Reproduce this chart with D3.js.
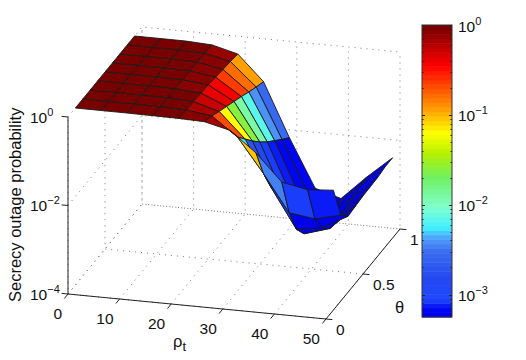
<!DOCTYPE html>
<html lang="en">
<head>
    <meta charset="UTF-8"/>
    <title>Secrecy outage probability</title>
    <script src="https://d3js.org/d3.v7.min.js" charset="utf-8"></script>
    <style type="text/css">
        html, body { margin: 0; padding: 0; background: #fff; }
        svg { display: block; }
        text { font-family: "Liberation Sans", sans-serif; font-size: 15.5px; fill: #111; }
        .title { font-size: 16.5px; }
        .grid { fill: none; stroke: #555; stroke-width: 0.8px; stroke-dasharray: 1 5; }
        .axis { fill: none; stroke: #222; stroke-width: 1px; }
        .cell { stroke: #1a1a1a; stroke-width: 0.9px; stroke-linejoin: round; }
    </style>
</head>
<body>
<div id="diagram"></div>
<script type="text/javascript">

    var rhoValues = [0, 5, 10, 15, 20, 25, 30, 35, 40, 45, 50];
    var thetaValues = [0.1, 0.2, 0.3, 0.4, 0.5, 0.6, 0.7, 0.8, 0.9];

    // one list per rho, theta running 0.1 .. 0.9
    var outage = [
        [0.999, 0.999, 0.999, 0.999, 0.999, 0.999, 0.999, 0.999, 0.999],
        [0.999, 0.999, 0.999, 0.999, 0.999, 0.999, 0.999, 0.999, 0.999],
        [0.999, 0.999, 0.999, 0.999, 0.999, 0.999, 0.998, 0.998, 0.995],
        [0.99, 0.99, 0.985, 0.98, 0.98, 0.975, 0.97, 0.96, 0.93],
        [0.98, 0.95, 0.92, 0.89, 0.86, 0.80, 0.75, 0.71, 0.66],
        [0.94, 0.79, 0.625, 0.51, 0.413, 0.334, 0.265, 0.215, 0.177],
        [0.68, 0.30, 0.17, 0.096, 0.057, 0.036, 0.024, 0.016, 0.011],
        [0.24, 0.052, 0.016, 0.0063, 0.0032, 0.002, 0.0014, 0.0011, 0.0009],
        [0.06, 0.0076, 0.002, 0.001, 0.0008, 0.0007, 0.00063, 0.0006, 0.0006],
        [0.046, 0.0063, 0.0025, 0.0015, 0.0013, 0.0015, 0.0018, 0.0021, 0.0021],
        [0.051, 0.0087, 0.0052, 0.0055, 0.0058, 0.0059, 0.006, 0.0065, 0.0065]
    ];

    var rhoTicks = [0, 10, 20, 30, 40, 50];
    var thetaTicks = [0, 0.5, 1];
    var thetaTickLabels = ["0", "0.5", "1"];
    var outageTicks = [1e-4, 1e-2, 1];
    var outageExponents = ["\u22124", "\u22122", "0"];
    var barTicks = [1, 1e-1, 1e-2, 1e-3];
    var barExponents = ["0", "\u22121", "\u22122", "\u22123"];

    // colormap
    var mapStops = [0, 0.03, 0.06, 0.134, 0.226, 0.27, 0.307, 0.375, 0.48, 0.56, 0.63, 0.71, 0.86, 1];
    var mapColors = ["#0000e6", "#0008f4", "#2048fc", "#2448f0", "#3c6ef0", "#50a0fa", "#40f0ff", "#80ffd0",
        "#70f060", "#b4f000", "#ffff00", "#ffa000", "#ff0000", "#700000"];

    var width = 526, height = 360;
    var originX = 68, originY = 294;

    var svg = d3.select("#diagram").append("svg")
        .attr("width", width)
        .attr("height", height);

    // oblique projection, each data axis has its own screen x and y scale
    var rhoX = d3.scaleLinear().domain([0, 50]).range([0, 258]);
    var rhoY = d3.scaleLinear().domain([0, 50]).range([0, 25]);
    var thetaX = d3.scaleLinear().domain([0, 1]).range([0, 74]);
    var thetaY = d3.scaleLinear().domain([0, 1]).range([0, -90]);
    var outageY = d3.scaleLog().domain([1e-4, 1]).range([0, -177]);

    function project(rho, theta, p) {
        return [
            originX + rhoX(rho) + thetaX(theta),
            originY + rhoY(rho) + thetaY(theta) + outageY(p)
        ];
    }

    var line = d3.line();

    var colorMap = d3.scaleLinear().domain(mapStops).range(mapColors);

    // 64 flat levels like the figure
    function mapLevel(v) {
        var i = Math.min(63, Math.floor(v * 64));
        return colorMap((i + 0.5) / 64);
    }

    // dotted grid on floor and two back walls
    var gridLines = [];
    rhoTicks.forEach(function (r) {
        gridLines.push([project(r, 0, 1e-4), project(r, 1, 1e-4), project(r, 1, 1)]);
    });
    thetaTicks.forEach(function (t) {
        gridLines.push([project(50, t, 1e-4), project(0, t, 1e-4), project(0, t, 1)]);
    });
    outageTicks.forEach(function (p) {
        gridLines.push([project(0, 0, p), project(0, 1, p), project(50, 1, p)]);
    });
    svg.selectAll("path.grid").data(gridLines).enter().append("path")
        .attr("class", "grid")
        .attr("d", function (d) { return line(d); });

    // faces, back rows first so the front ones paint over them
    var cells = [];
    for (var j = thetaValues.length - 2; j >= 0; j--) {
        for (var i = 0; i < rhoValues.length - 1; i++) {
            cells.push({i: i, j: j});
        }
    }
    svg.selectAll("path.cell").data(cells).enter().append("path")
        .attr("class", "cell")
        .attr("fill", function (d) { return mapLevel(outage[d.i][d.j]); })
        .attr("d", function (d) {
            var corners = [[d.i, d.j], [d.i + 1, d.j], [d.i + 1, d.j + 1], [d.i, d.j + 1]];
            return line(corners.map(function (c) {
                return project(rhoValues[c[0]], thetaValues[c[1]], outage[c[0]][c[1]]);
            })) + "Z";
        });

    // axis lines
    var axisLines = [
        [project(0, 0, 1), project(0, 0, 1e-4), project(50, 0, 1e-4), project(50, 1, 1e-4)]
    ];
    svg.selectAll("path.axis").data(axisLines).enter().append("path")
        .attr("class", "axis")
        .attr("d", function (d) { return line(d); });

    function tick(a, dx, dy) {
        svg.append("path").attr("class", "axis")
            .attr("d", line([a, [a[0] + dx, a[1] + dy]]));
    }

    rhoTicks.forEach(function (r) {
        var a = project(r, 0, 1e-4);
        tick(a, -3.7, 4.5);
        svg.append("text")
            .attr("x", a[0] - 6)
            .attr("y", a[1] + 24.5)
            .attr("text-anchor", "end")
            .text(r);
    });

    thetaTicks.forEach(function (t, k) {
        var a = project(50, t, 1e-4);
        tick(a, 6.4, 0.6);
        svg.append("text")
            .attr("x", a[0] + 10)
            .attr("y", a[1] + 16)
            .text(thetaTickLabels[k]);
    });

    function powerLabel(x, y, exponent) {
        var label = svg.append("text").attr("x", x).attr("y", y);
        label.append("tspan").text("10");
        label.append("tspan")
            .attr("dy", -7)
            .style("font-size", "11px")
            .text(exponent);
    }

    outageTicks.forEach(function (p, k) {
        var a = project(0, 0, p);
        tick(a, -6.4, -0.6);
        powerLabel(30, a[1] + 5.5, outageExponents[k]);
    });

    // axis titles
    svg.append("text")
        .attr("class", "title")
        .attr("transform", "translate(20.5,302) rotate(-90)")
        .text("Secrecy outage probability");

    var rhoLabel = svg.append("text").attr("class", "title").attr("x", 173).attr("y", 347);
    rhoLabel.append("tspan").text("\u03c1");
    rhoLabel.append("tspan").attr("dy", 4).style("font-size", "13px").text("t");

    svg.append("text")
        .attr("class", "title")
        .attr("x", 395)
        .attr("y", 313)
        .text("\u03b8");

    // colorbar
    var barLeft = 422, barWidth = 30, barTop = 25, barBottom = 317;
    var barScale = d3.scaleLog()
        .domain([Math.pow(10, -3.25), 1])
        .range([barBottom, barTop]);
    var levelScale = d3.scaleLinear().domain([0, 64]).range([barBottom, barTop]);

    svg.selectAll("rect.level").data(d3.range(64)).enter().append("rect")
        .attr("class", "level")
        .attr("x", barLeft)
        .attr("width", barWidth)
        .attr("y", function (d) { return levelScale(d + 1); })
        .attr("height", function (d) { return levelScale(d) - levelScale(d + 1) + 0.5; })
        .attr("fill", function (d) { return mapLevel(d / 64); });

    svg.append("rect")
        .attr("x", barLeft)
        .attr("y", barTop)
        .attr("width", barWidth)
        .attr("height", barBottom - barTop)
        .attr("fill", "none")
        .attr("stroke", "#333");

    barScale.ticks().forEach(function (v) {
        var y = Math.round(barScale(v)) + 0.5;
        var len = barTicks.indexOf(v) >= 0 ? 3 : 1.5;
        svg.append("path").attr("class", "axis")
            .attr("d", line([[barLeft, y], [barLeft + len, y]]));
        svg.append("path").attr("class", "axis")
            .attr("d", line([[barLeft + barWidth, y], [barLeft + barWidth - len, y]]));
    });

    barTicks.forEach(function (v, k) {
        powerLabel(458, barScale(v) + 6.5, barExponents[k]);
    });

</script>
</body>
</html>
